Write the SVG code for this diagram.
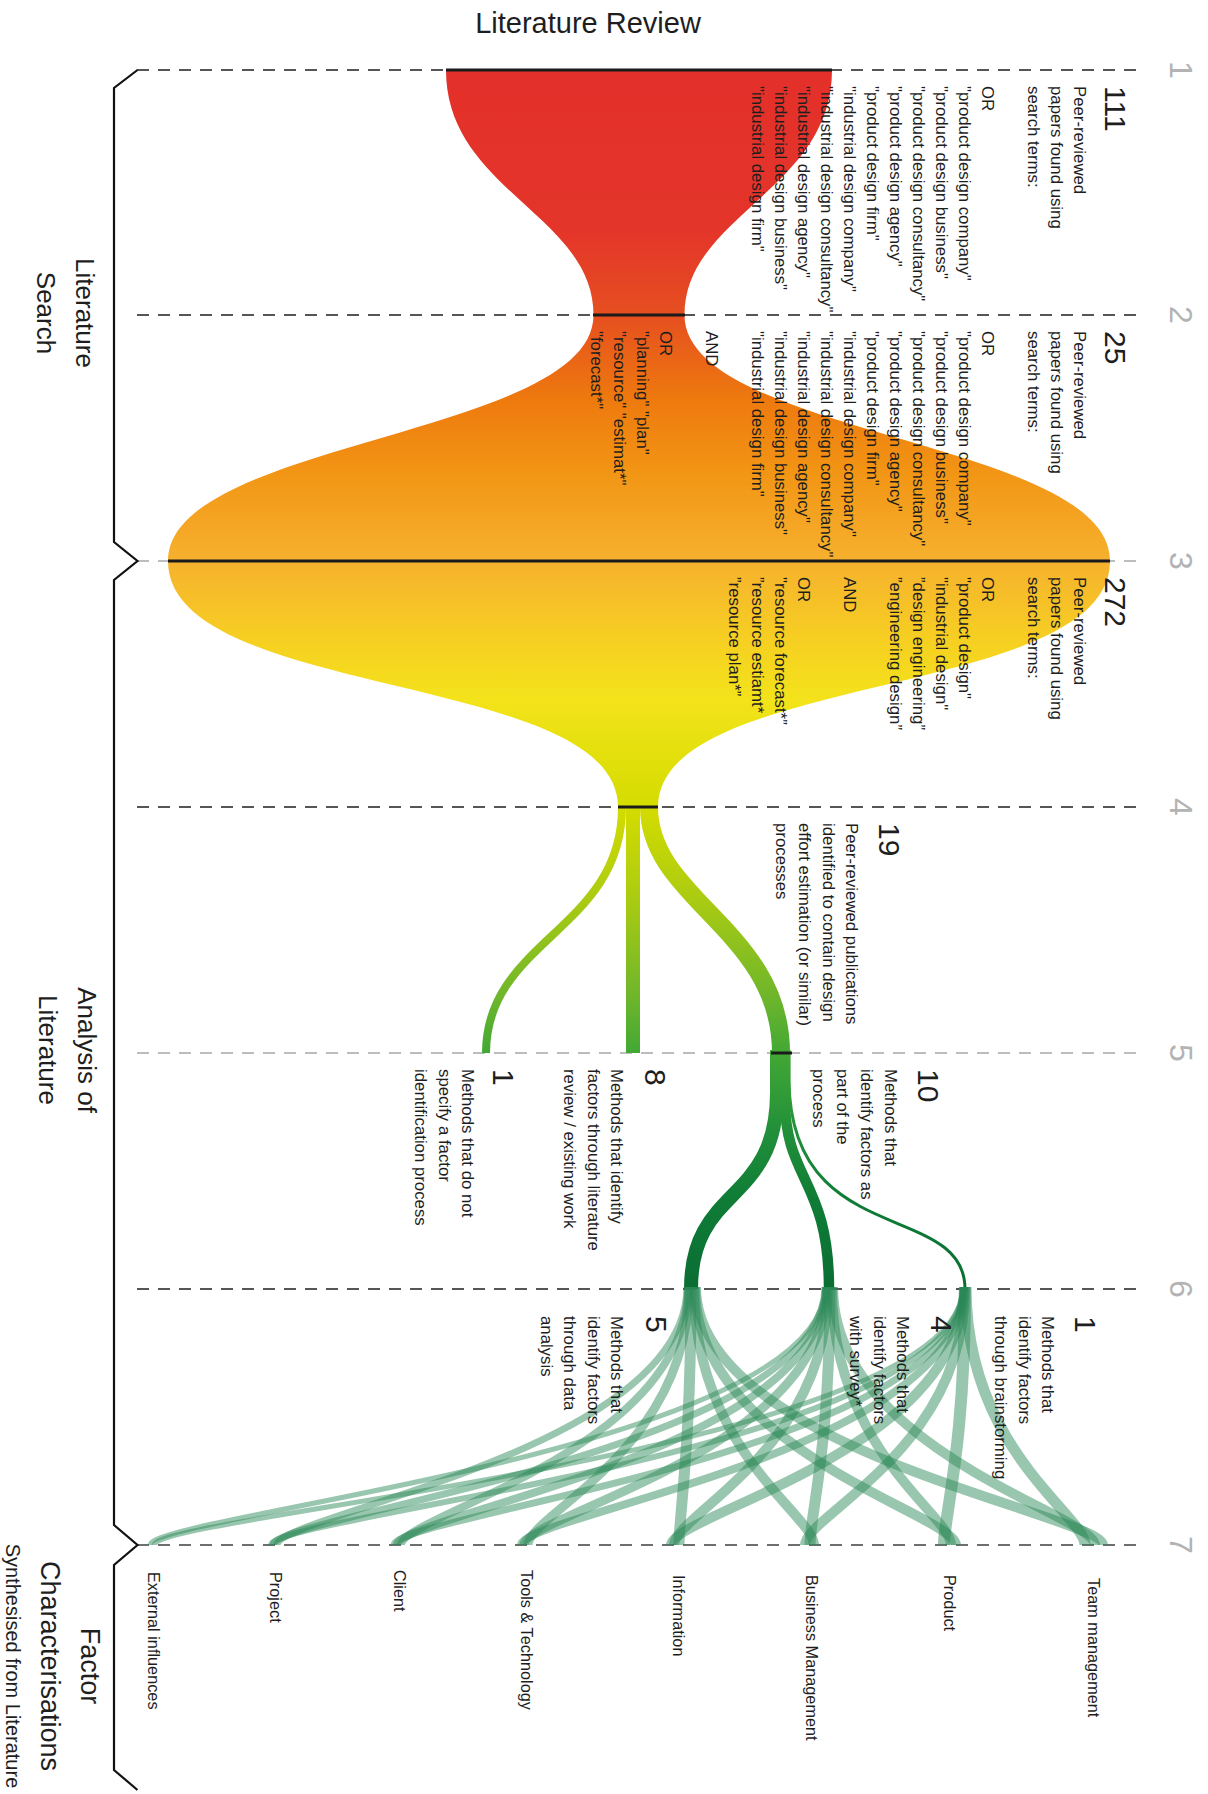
<svg xmlns="http://www.w3.org/2000/svg" width="1208" height="1794" viewBox="0 0 1208 1794">
  <style>
    text { font-family: "Liberation Sans", Arial, sans-serif; fill: #1e1e1e; }
    .t { font-size: 16.8px; }
    .n { font-size: 30px; }
    .stage { font-size: 32px; fill: #b3b3b3; }
    .grp { font-size: 26px; }
    .sub { font-size: 20px; }
    .fac { font-size: 16.3px; }
    .title { font-size: 29px; }
    .dash { fill: none; stroke-width: 2; stroke-dasharray: 12 9; }
    .dk { stroke: #555; }
    .lt { stroke: #bdbdbd; }
    .md { stroke: #6e6e6e; }
    .bar { stroke: #1a1a1a; stroke-width: 3; fill: none; }
    .flow { fill: none; stroke: url(#flowGrad); stroke-linecap: butt; }
    .rib { fill: none; stroke: #2a8855; stroke-opacity: 0.48; }
    .brace { fill: none; stroke: #111; stroke-width: 2.2; stroke-linejoin: miter; }
  </style>
  <defs>
    <linearGradient id="flowGrad" gradientUnits="userSpaceOnUse" x1="0" y1="70" x2="0" y2="1289">
      <stop offset="0" stop-color="#e3302a"/>
      <stop offset="0.131" stop-color="#e4352a"/>
      <stop offset="0.201" stop-color="#e64f20"/>
      <stop offset="0.271" stop-color="#ee7a0e"/>
      <stop offset="0.328" stop-color="#f29414"/>
      <stop offset="0.402" stop-color="#f6b12e"/>
      <stop offset="0.467" stop-color="#f6cf22"/>
      <stop offset="0.517" stop-color="#f3e31a"/>
      <stop offset="0.605" stop-color="#d4dc00"/>
      <stop offset="0.681" stop-color="#aacb12"/>
      <stop offset="0.763" stop-color="#6cb52c"/>
      <stop offset="0.806" stop-color="#42a834"/>
      <stop offset="0.869" stop-color="#22903a"/>
      <stop offset="0.927" stop-color="#0f7c36"/>
      <stop offset="1" stop-color="#0b6e34"/>
    </linearGradient>
  </defs>

  <rect width="1208" height="1794" fill="#ffffff"/>

  <!-- title -->
  <text class="title" x="588" y="33" text-anchor="middle">Literature Review</text>

  <!-- stage divider lines -->
  <g id="stage-lines">
    <line class="dash dk" x1="137" y1="70" x2="1145" y2="70"/>
    <line class="dash dk" x1="137" y1="315" x2="1145" y2="315"/>
    <line class="dash lt" x1="137" y1="561" x2="1145" y2="561"/>
    <line class="dash dk" x1="137" y1="807" x2="1145" y2="807"/>
    <line class="dash lt" x1="137" y1="1053" x2="1145" y2="1053"/>
    <line class="dash dk" x1="137" y1="1289" x2="1145" y2="1289"/>
    <line class="dash md" x1="137" y1="1545" x2="1145" y2="1545"/>
  </g>

  <!-- stage numbers -->
  <g id="stage-numbers">
    <text class="stage" transform="translate(1170,70) rotate(90)" text-anchor="middle">1</text>
    <text class="stage" transform="translate(1170,315) rotate(90)" text-anchor="middle">2</text>
    <text class="stage" transform="translate(1170,561) rotate(90)" text-anchor="middle">3</text>
    <text class="stage" transform="translate(1170,807) rotate(90)" text-anchor="middle">4</text>
    <text class="stage" transform="translate(1170,1053) rotate(90)" text-anchor="middle">5</text>
    <text class="stage" transform="translate(1170,1289) rotate(90)" text-anchor="middle">6</text>
    <text class="stage" transform="translate(1170,1545) rotate(90)" text-anchor="middle">7</text>
  </g>

  <!-- phase braces -->
  <g id="braces">
    <path class="brace" d="M137.5,70 L114,88 L114,542 L137.5,561 L114,580 L114,1525 L137.5,1545 L114,1565 L114,1770 L137.5,1790"/>
  </g>

  <!-- search funnel: stages 1 to 4 -->
  <g id="funnel">
    <path fill="url(#flowGrad)" d="M446,70 L832,70 C832,190 684.5,215 684.5,315 C684.5,436 1110,440 1110,561 C1110,700 658,671 658,807 L618,807 C618,671 168,700 168,561 C168,440 593.5,436 593.5,315 C593.5,215 446,190 446,70 Z"/>
  </g>

  <g id="connectors">
    <!-- stage 4 to 5 branches -->
    <path class="flow" stroke-width="8" d="M622,800 L622,807 C622,930 486,940 486,1053"/>
    <path class="flow" stroke-width="14" d="M633,800 L633,1053"/>
    <path class="flow" stroke-width="18" d="M649,800 L649,807 C649,900 781,930 781,1053"/>
    <!-- stage 5 to 6 branches -->
    <path class="flow" stroke-width="14" d="M777,1050 L777,1092 C777,1205 691,1185 691,1289"/>
    <path class="flow" stroke-width="10.5" d="M785,1050 L785,1100 C785,1180 829,1180 829,1289"/>
    <path class="flow" stroke-width="3" d="M789,1050 L789,1080 C790,1250 965,1200 965,1289"/>

    <!-- stage 6 to 7 factor ribbons -->
    <g id="ribbons">
      <path class="rib" stroke-width="7" d="M687,1287 C687,1450 277,1515 277,1545"/>
      <path class="rib" stroke-width="8" d="M688,1287 C688,1450 401,1515 401,1545"/>
      <path class="rib" stroke-width="9" d="M689,1287 C689,1450 528,1515 528,1545"/>
      <path class="rib" stroke-width="11" d="M691,1287 C691,1450 679,1515 679,1545"/>
      <path class="rib" stroke-width="10" d="M694,1287 C694,1450 814,1515 814,1545"/>
      <path class="rib" stroke-width="10" d="M695,1287 C695,1450 956,1515 956,1545"/>
      <path class="rib" stroke-width="10" d="M696,1287 C696,1450 1103,1515 1103,1545"/>

      <path class="rib" stroke-width="5" d="M825,1287 C825,1450 150,1515 150,1545"/>
      <path class="rib" stroke-width="7" d="M825,1287 C825,1450 273,1515 273,1545"/>
      <path class="rib" stroke-width="8" d="M826,1287 C826,1450 397,1515 397,1545"/>
      <path class="rib" stroke-width="9" d="M827,1287 C827,1450 524,1515 524,1545"/>
      <path class="rib" stroke-width="10" d="M828,1287 C828,1450 674,1515 674,1545"/>
      <path class="rib" stroke-width="11" d="M830,1287 C830,1450 810,1515 810,1545"/>
      <path class="rib" stroke-width="10" d="M832,1287 C832,1450 951,1515 951,1545"/>
      <path class="rib" stroke-width="10" d="M833,1287 C833,1450 1095,1515 1095,1545"/>

      <path class="rib" stroke-width="5" d="M963,1287 C963,1450 154,1515 154,1545"/>
      <path class="rib" stroke-width="6" d="M963,1287 C963,1450 271,1515 271,1545"/>
      <path class="rib" stroke-width="7" d="M964,1287 C964,1450 394,1515 394,1545"/>
      <path class="rib" stroke-width="8" d="M964,1287 C964,1450 521,1515 521,1545"/>
      <path class="rib" stroke-width="10" d="M964,1287 C964,1450 671,1515 671,1545"/>
      <path class="rib" stroke-width="10" d="M965,1287 C965,1450 805,1515 805,1545"/>
      <path class="rib" stroke-width="12" d="M965,1287 C965,1450 944,1515 944,1545"/>
      <path class="rib" stroke-width="11" d="M966,1287 C966,1450 1085,1515 1085,1545"/>
    </g>
  </g>

  <!-- stage count markers -->
  <g id="count-bars">
    <line class="bar" x1="446" y1="70" x2="832" y2="70"/>
    <line class="bar" x1="593" y1="315" x2="685" y2="315"/>
    <line class="bar" x1="168" y1="561" x2="1110" y2="561"/>
    <line class="bar" x1="618" y1="807" x2="658" y2="807"/>
    <line class="bar" x1="771" y1="1053" x2="792" y2="1053"/>
  </g>

  <!-- phase labels -->
  <g id="phase-search" transform="translate(76,313) rotate(90)">
    <text class="grp" text-anchor="middle"><tspan x="0" y="0">Literature</tspan><tspan x="0" y="39">Search</tspan></text>
  </g>
  <g id="phase-analysis" transform="translate(78,1050) rotate(90)">
    <text class="grp" text-anchor="middle"><tspan x="0" y="0">Analysis of</tspan><tspan x="0" y="39">Literature</tspan></text>
  </g>
  <g id="phase-factors" transform="translate(81,1666) rotate(90)">
    <text class="grp" text-anchor="middle" style="font-size:27px"><tspan x="0" y="0">Factor</tspan><tspan x="0" y="40">Characterisations</tspan></text>
    <text class="sub" text-anchor="middle" x="0" y="75">Synthesised from Literature</text>
  </g>

  <!-- stage 1 -->
  <g id="node-stage1" transform="translate(1074,86) rotate(90)">
    <text class="n" x="0" y="-31">111</text>
    <text class="t">
      <tspan x="0" y="0">Peer-reviewed</tspan>
      <tspan x="0" y="23">papers found using</tspan>
      <tspan x="0" y="46">search terms:</tspan>
      <tspan x="0" y="92">OR</tspan>
      <tspan x="0" y="115">"product design company"</tspan>
      <tspan x="0" y="138">"product design business"</tspan>
      <tspan x="0" y="161">"product design consultancy"</tspan>
      <tspan x="0" y="184">"product design agency"</tspan>
      <tspan x="0" y="207">"product design firm"</tspan>
      <tspan x="0" y="230">"industrial design company"</tspan>
      <tspan x="0" y="253">"industrial design consultancy"</tspan>
      <tspan x="0" y="276">"industrial design agency"</tspan>
      <tspan x="0" y="299">"industrial design business"</tspan>
      <tspan x="0" y="322">"industrial design firm"</tspan>
    </text>
  </g>

  <!-- stage 2 -->
  <g id="node-stage2" transform="translate(1074,331) rotate(90)">
    <text class="n" x="0" y="-31">25</text>
    <text class="t">
      <tspan x="0" y="0">Peer-reviewed</tspan>
      <tspan x="0" y="23">papers found using</tspan>
      <tspan x="0" y="46">search terms:</tspan>
      <tspan x="0" y="92">OR</tspan>
      <tspan x="0" y="115">"product design company"</tspan>
      <tspan x="0" y="138">"product design business"</tspan>
      <tspan x="0" y="161">"product design consultancy"</tspan>
      <tspan x="0" y="184">"product design agency"</tspan>
      <tspan x="0" y="207">"product design firm"</tspan>
      <tspan x="0" y="230">"industrial design company"</tspan>
      <tspan x="0" y="253">"industrial design consultancy"</tspan>
      <tspan x="0" y="276">"industrial design agency"</tspan>
      <tspan x="0" y="299">"industrial design business"</tspan>
      <tspan x="0" y="322">"industrial design firm"</tspan>
      <tspan x="0" y="368">AND</tspan>
      <tspan x="0" y="414">OR</tspan>
      <tspan x="0" y="437">"planning" "plan"</tspan>
      <tspan x="0" y="460">"resource" "estimat*"</tspan>
      <tspan x="0" y="483">"forecast*"</tspan>
    </text>
  </g>

  <!-- stage 3 -->
  <g id="node-stage3" transform="translate(1074,577) rotate(90)">
    <text class="n" x="0" y="-31">272</text>
    <text class="t">
      <tspan x="0" y="0">Peer-reviewed</tspan>
      <tspan x="0" y="23">papers found using</tspan>
      <tspan x="0" y="46">search terms:</tspan>
      <tspan x="0" y="92">OR</tspan>
      <tspan x="0" y="115">"product design"</tspan>
      <tspan x="0" y="138">"industrial design"</tspan>
      <tspan x="0" y="161">”design engineering”</tspan>
      <tspan x="0" y="184">”engineering design”</tspan>
      <tspan x="0" y="230">AND</tspan>
      <tspan x="0" y="276">OR</tspan>
      <tspan x="0" y="299">"resource forecast*”</tspan>
      <tspan x="0" y="322">”resource estiamt*</tspan>
      <tspan x="0" y="345">”resource plan*”</tspan>
    </text>
  </g>

  <!-- stage 4 -->
  <g id="node-stage4" transform="translate(846,823) rotate(90)">
    <text class="n" x="0" y="-33">19</text>
    <text class="t">
      <tspan x="0" y="0">Peer-reviewed publications</tspan>
      <tspan x="0" y="23.5">identified to contain design</tspan>
      <tspan x="0" y="47">effort estimation (or similar)</tspan>
      <tspan x="0" y="70.5">processes</tspan>
    </text>
  </g>

  <!-- stage 5 -->
  <g id="node-process" transform="translate(885,1069) rotate(90)">
    <text class="n" x="0" y="-33">10</text>
    <text class="t">
      <tspan x="0" y="0">Methods that</tspan>
      <tspan x="0" y="24">identify factors as</tspan>
      <tspan x="0" y="48">part of the</tspan>
      <tspan x="0" y="72">process</tspan>
    </text>
  </g>
  <g id="node-literature" transform="translate(611,1069) rotate(90)">
    <text class="n" x="0" y="-34">8</text>
    <text class="t">
      <tspan x="0" y="0">Methods that identify</tspan>
      <tspan x="0" y="23.5">factors through literature</tspan>
      <tspan x="0" y="47">review / existing work</tspan>
    </text>
  </g>
  <g id="node-unspecified" transform="translate(462,1069) rotate(90)">
    <text class="n" x="0" y="-31">1</text>
    <text class="t">
      <tspan x="0" y="0">Methods that do not</tspan>
      <tspan x="0" y="23.5">specify a factor</tspan>
      <tspan x="0" y="47">identification process</tspan>
    </text>
  </g>

  <!-- stage 6 -->
  <g id="node-brainstorming" transform="translate(1042,1316) rotate(90)">
    <text class="n" x="0" y="-33">1</text>
    <text class="t">
      <tspan x="0" y="0">Methods that</tspan>
      <tspan x="0" y="23.5">identify factors</tspan>
      <tspan x="0" y="47">through brainstorming</tspan>
    </text>
  </g>
  <g id="node-survey" transform="translate(897,1316) rotate(90)">
    <text class="n" x="0" y="-34">4</text>
    <text class="t">
      <tspan x="0" y="0">Methods that</tspan>
      <tspan x="0" y="23.5">identify factors</tspan>
      <tspan x="0" y="47">with survey*</tspan>
    </text>
  </g>
  <g id="node-data" transform="translate(611,1316) rotate(90)">
    <text class="n" x="0" y="-35">5</text>
    <text class="t">
      <tspan x="0" y="0">Methods that</tspan>
      <tspan x="0" y="23.5">identify factors</tspan>
      <tspan x="0" y="47">through data</tspan>
      <tspan x="0" y="70.5">analysis</tspan>
    </text>
  </g>

  <!-- stage 7 factor labels -->
  <g id="factor-external" transform="translate(148,1572) rotate(90)"><text class="fac">External influences</text></g>
  <g id="factor-project" transform="translate(270,1572) rotate(90)"><text class="fac">Project</text></g>
  <g id="factor-client" transform="translate(394,1570) rotate(90)"><text class="fac">Client</text></g>
  <g id="factor-tools" transform="translate(521,1570) rotate(90)"><text class="fac">Tools &amp; Technology</text></g>
  <g id="factor-information" transform="translate(673,1575) rotate(90)"><text class="fac">Information</text></g>
  <g id="factor-business" transform="translate(806,1575) rotate(90)"><text class="fac">Business Management</text></g>
  <g id="factor-product" transform="translate(944,1575) rotate(90)"><text class="fac">Product</text></g>
  <g id="factor-team" transform="translate(1088,1578) rotate(90)"><text class="fac">Team management</text></g>
</svg>
